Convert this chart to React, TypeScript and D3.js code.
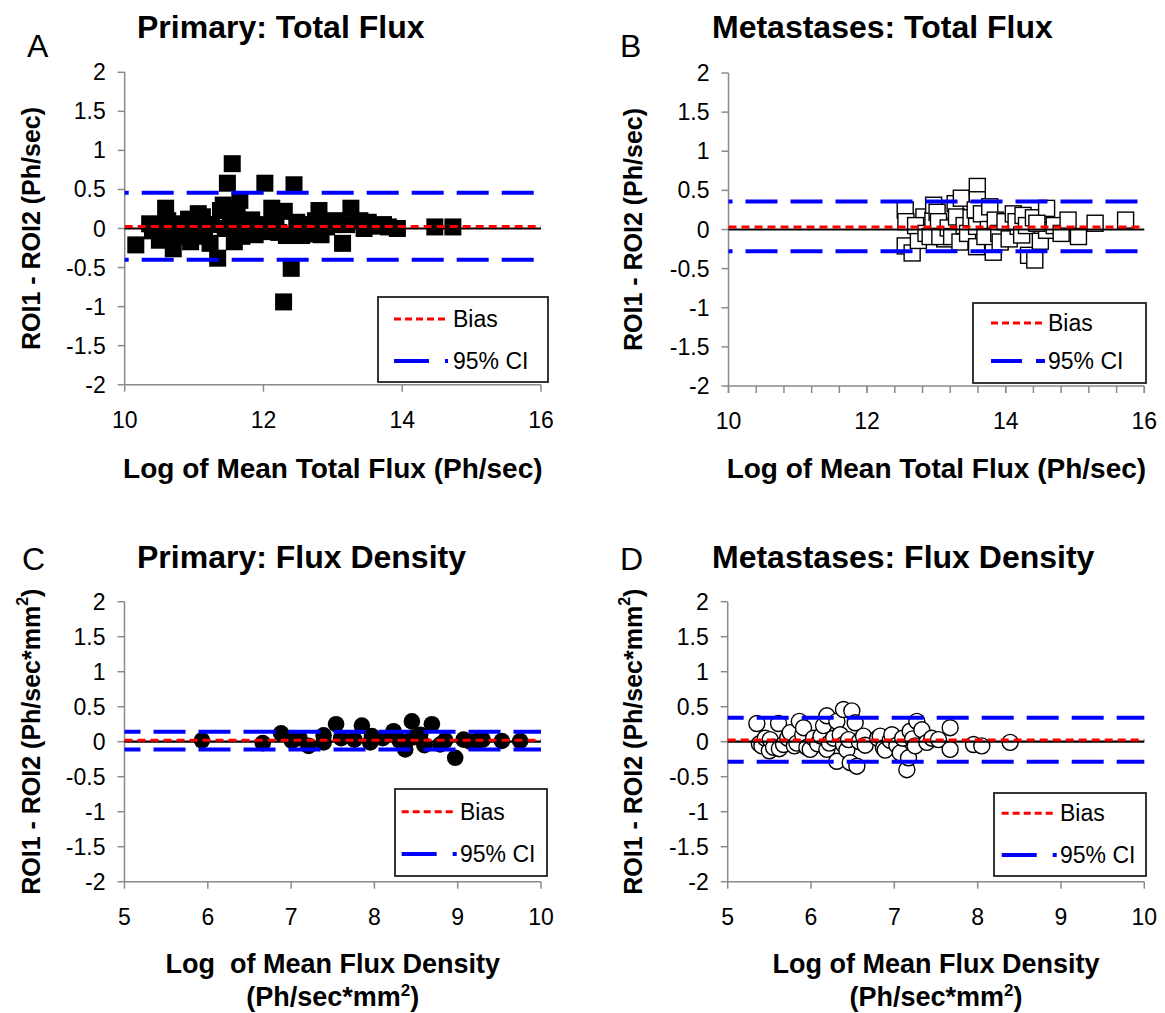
import React from 'react';
import * as d3 from 'd3';

const FONT = '"Liberation Sans", Arial, Helvetica, sans-serif';

type Pt = [number, number];

// ---- Data (x = log of mean, y = ROI1 - ROI2) ----
const primaryTotalFlux: Pt[] = [
  [10.16, -0.21], [10.36, 0.06], [10.4, -0.03], [10.5, -0.15], [10.52, 0.05],
  [10.59, 0.26], [10.62, 0.1], [10.65, -0.05], [10.7, -0.26], [10.74, 0.05], [10.8, -0.1],
  [10.85, 0.06], [10.92, 0.12], [10.95, -0.17], [11.0, 0.0], [11.06, 0.19], [11.12, 0.15],
  [11.15, -0.1], [11.23, -0.19], [11.25, 0.05], [11.34, -0.38], [11.38, 0.23], [11.42, 0.3],
  [11.45, 0.0], [11.48, 0.58], [11.52, 0.12], [11.55, 0.83], [11.58, -0.17], [11.62, 0.25],
  [11.66, 0.36], [11.69, -0.1], [11.72, 0.05], [11.83, 0.11], [11.88, -0.08], [11.95, 0.05],
  [12.02, 0.58], [12.08, -0.04], [12.12, 0.26], [12.18, 0.1], [12.22, -0.05], [12.29, -0.94],
  [12.3, 0.22], [12.33, -0.09], [12.4, -0.51], [12.44, 0.56], [12.48, 0.08], [12.55, -0.09],
  [12.6, 0.05], [12.65, -0.07], [12.75, 0.1], [12.8, 0.23], [12.83, -0.08], [12.91, 0.02],
  [13.0, 0.05], [13.03, 0.1], [13.14, -0.19], [13.2, 0.05], [13.26, 0.26], [13.39, 0.1],
  [13.45, 0.0], [13.51, 0.08], [13.6, 0.03], [13.73, 0.05], [13.8, 0.02], [13.93, 0.0],
  [14.47, 0.02], [14.73, 0.02],
];

const metastasesTotalFlux: Pt[] = [
  [12.55, 0.25], [12.56, 0.1], [12.55, -0.21], [12.65, -0.3], [12.74, -0.14], [12.82, 0.16],
  [12.7, 0.05], [12.85, -0.05], [12.95, 0.12], [13.1, 0.18], [13.12, -0.12], [13.2, 0.25],
  [12.96, 0.31], [13.01, 0.22], [13.03, 0.1], [12.91, -0.09], [13.05, -0.09], [13.17, 0.02],
  [13.27, 0.33], [13.36, 0.4], [13.29, 0.16], [13.22, -0.09], [13.34, -0.16], [13.4, 0.05],
  [13.45, -0.05], [13.5, 0.15], [13.59, 0.55], [13.59, 0.38], [13.56, 0.25], [13.58, 0.04],
  [13.58, -0.22], [13.65, 0.2], [13.77, 0.29], [13.75, 0.0], [13.82, -0.29], [13.7, -0.09],
  [13.85, 0.12], [13.9, -0.05], [13.92, -0.16], [13.99, 0.1], [14.05, -0.12], [14.11, 0.2],
  [14.18, 0.04], [14.15, 0.1], [14.25, 0.18], [14.33, -0.33], [14.23, -0.07], [14.3, 0.05],
  [14.42, -0.39], [14.4, 0.15], [14.5, -0.15], [14.59, 0.27], [14.59, -0.01], [14.45, 0.08],
  [14.7, 0.05], [14.8, -0.05], [14.9, 0.12], [15.05, -0.09], [15.29, 0.08], [15.73, 0.12],
];

const primaryFluxDensity: Pt[] = [
  [5.93, 0.02], [6.66, -0.02], [6.88, 0.12], [7.01, 0.01], [7.1, 0.05], [7.21, -0.06],
  [7.39, -0.01], [7.39, 0.09], [7.54, 0.25], [7.6, 0.05], [7.76, 0.03], [7.85, 0.23],
  [7.95, -0.01], [7.97, 0.08], [8.1, 0.05], [8.23, 0.15], [8.3, 0.02], [8.35, -0.01],
  [8.37, -0.11], [8.45, 0.29], [8.46, 0.06], [8.55, 0.1], [8.69, 0.25], [8.6, -0.05],
  [8.79, -0.04], [8.85, 0.02], [8.97, -0.23], [9.07, 0.03], [9.15, 0.0], [9.23, 0.01],
  [9.3, 0.03], [9.53, 0.01], [9.75, 0.01],
];

const metastasesFluxDensity: Pt[] = [
  [5.35, 0.26], [5.38, -0.03], [5.41, -0.06], [5.45, 0.05], [5.5, -0.13], [5.51, 0.03],
  [5.55, -0.08], [5.61, 0.26], [5.62, -0.1], [5.67, -0.04], [5.72, 0.05], [5.75, 0.13],
  [5.8, -0.06], [5.83, -0.02], [5.86, 0.29], [5.9, 0.1], [5.91, 0.2], [5.95, -0.08],
  [5.99, -0.11], [6.03, 0.05], [6.08, -0.03], [6.12, 0.08], [6.15, 0.23], [6.19, 0.37],
  [6.19, -0.11], [6.22, -0.02], [6.27, 0.05], [6.31, 0.29], [6.31, -0.28], [6.35, 0.1],
  [6.39, 0.46], [6.39, -0.04], [6.43, -0.12], [6.45, 0.03], [6.47, -0.3], [6.49, 0.44],
  [6.53, 0.27], [6.55, -0.35], [6.58, 0.0], [6.63, 0.08], [6.65, -0.05], [6.8, 0.05],
  [6.83, 0.08], [6.87, -0.09], [6.89, -0.12], [6.95, 0.02], [6.97, 0.1], [7.03, -0.05],
  [7.07, -0.16], [7.1, 0.05], [7.15, -0.4], [7.17, -0.23], [7.19, 0.15], [7.22, 0.04],
  [7.25, -0.06], [7.27, 0.29], [7.33, 0.17], [7.39, -0.01], [7.45, 0.05], [7.53, 0.03],
  [7.67, 0.2], [7.67, -0.11], [7.95, -0.04], [8.05, -0.06], [8.39, -0.01],
];

const yTickValues = [2, 1.5, 1, 0.5, 0, -0.5, -1, -1.5, -2];
const totalFluxTicks = [10, 12, 14, 16];
const densityTicks = [5, 6, 7, 8, 9, 10];
const biasValues = [0.026, 0.033, 0.019, 0.023];
const upperLimits = [0.457, 0.359, 0.143, 0.343];
const lowerLimits = [-0.4, -0.278, -0.11, -0.286];
const legendLabels = ['Bias', '95% CI'];
const panelLetters = ['A', 'B', 'C', 'D'];
const panelTitles = [
  'Primary: Total Flux',
  'Metastases: Total Flux',
  'Primary: Flux Density',
  'Metastases: Flux Density',
];

type Layout = {
  data: Pt[];
  marker: 'fsq' | 'osq' | 'fci' | 'oci';
  xTicks: number[];
  minorStep: number;
  left: number; right: number; top: number; bottom: number;
  letter: [number, number];
  title: [number, number];
  yLabX: number;
  density: boolean;
  xLab: { lines: string[]; y: number[] };
  blueOffset: number;
  legend: { x: number; y: number; w: number; h: number; lx1: number; lx2: number; tx: number; r1: number; r2: number; dash: string };
};

const layouts: Layout[] = [
  {
    data: primaryTotalFlux, marker: 'fsq', xTicks: totalFluxTicks, minorStep: 0,
    left: 124.7, right: 541, top: 72.3, bottom: 384.7,
    letter: [27, 57], title: [137, 38], yLabX: 31, density: false,
    xLab: { lines: ['Log of Mean Total Flux (Ph/sec)'], y: [478] },
    blueOffset: 28,
    legend: { x: 378, y: 297, w: 170, h: 85, lx1: 394, lx2: 448, tx: 453, r1: 319, r2: 361, dash: '35 16' },
  },
  {
    data: metastasesTotalFlux, marker: 'osq', xTicks: totalFluxTicks, minorStep: 0.4,
    left: 728.5, right: 1144.3, top: 73, bottom: 386,
    letter: [620, 57], title: [712, 38], yLabX: 633, density: false,
    xLab: { lines: ['Log of Mean Total Flux (Ph/sec)'], y: [478] },
    blueOffset: 28,
    legend: { x: 973, y: 303, w: 173, h: 80, lx1: 991, lx2: 1045, tx: 1048, r1: 323, r2: 361, dash: '31 14' },
  },
  {
    data: primaryFluxDensity, marker: 'fci', xTicks: densityTicks, minorStep: 0,
    left: 124.5, right: 541, top: 601.7, bottom: 881.7,
    letter: [22, 570], title: [137, 568], yLabX: 31, density: true,
    xLab: { lines: ['Log  of Mean Flux Density', '(Ph/sec*mm'], y: [973, 1006] },
    blueOffset: 16,
    legend: { x: 395, y: 789, w: 152, h: 87, lx1: 401.7, lx2: 456.7, tx: 460, r1: 811.7, r2: 854, dash: '35 16' },
  },
  {
    data: metastasesFluxDensity, marker: 'oci', xTicks: densityTicks, minorStep: 0,
    left: 727.7, right: 1144.3, top: 601.7, bottom: 881.7,
    letter: [620, 570], title: [712, 568], yLabX: 633, density: true,
    xLab: { lines: ['Log of Mean Flux Density', '(Ph/sec*mm'], y: [973, 1006] },
    blueOffset: 16,
    legend: { x: 994, y: 793, w: 152, h: 83, lx1: 1001.7, lx2: 1056.7, tx: 1060, r1: 813.3, r2: 855, dash: '35 16' },
  },
];

const AXIS = '#8a8a8a';
const BLUE = '#0000ff';
const RED = '#ff0000';

function Panel({ L, i }: { L: Layout; i: number }) {
  const x = d3.scaleLinear().domain([L.xTicks[0], L.xTicks[L.xTicks.length - 1]]).range([L.left, L.right]);
  const y = d3.scaleLinear().domain([-2, 2]).range([L.bottom, L.top]);
  const minor: number[] = [];
  if (L.minorStep > 0) {
    const d = x.domain();
    for (let k = 0; d[0] + k * L.minorStep <= d[1] + 1e-9; k++) minor.push(d[0] + k * L.minorStep);
  }
  const yMid = (L.top + L.bottom) / 2;
  const xMid = (L.left + L.right) / 2;
  const leg = L.legend;
  const xLabSize = L.density ? 27 : 28;
  return (
    <g>
      <text x={L.letter[0]} y={L.letter[1]} fontSize={32} fontFamily={FONT}>{panelLetters[i]}</text>
      <text x={L.title[0]} y={L.title[1]} fontSize={32} fontWeight="bold" fontFamily={FONT}>{panelTitles[i]}</text>
      <text
        transform={`translate(${L.yLabX},${yMid}) rotate(-90)`}
        textAnchor="middle" dominantBaseline="central"
        fontSize={25} fontWeight="bold" fontFamily={FONT}
      >
        {L.density ? (
          <>
            <tspan>ROI1 - ROI2 (Ph/sec*mm</tspan>
            <tspan fontSize={16} dy={-9}>2</tspan>
            <tspan dy={9}>)</tspan>
          </>
        ) : 'ROI1 - ROI2 (Ph/sec)'}
      </text>
      <line x1={L.left} x2={L.left} y1={L.top} y2={L.bottom} stroke={AXIS} strokeWidth={1.5} />
      <line x1={L.left} x2={L.right} y1={L.bottom} y2={L.bottom} stroke={AXIS} strokeWidth={1.5} />
      {yTickValues.map((t) => (
        <g key={'y' + t}>
          <line x1={L.left - 7} x2={L.left} y1={y(t)} y2={y(t)} stroke={AXIS} strokeWidth={1.5} />
          <text x={L.left - 19} y={y(t) + 8} textAnchor="end" fontSize={23} fontFamily={FONT}>{String(t)}</text>
        </g>
      ))}
      {minor.map((t) => (
        <line key={'m' + t} x1={x(t)} x2={x(t)} y1={L.bottom} y2={L.bottom + 7} stroke={AXIS} strokeWidth={1.5} />
      ))}
      {L.xTicks.map((t) => (
        <g key={'x' + t}>
          <line x1={x(t)} x2={x(t)} y1={L.bottom} y2={L.bottom + 7} stroke={AXIS} strokeWidth={1.5} />
          <text x={x(t)} y={L.bottom + 43} textAnchor="middle" fontSize={23} fontFamily={FONT}>{String(t)}</text>
        </g>
      ))}
      {L.xLab.lines.map((s, k) => (
        <text key={k} x={xMid} y={L.xLab.y[k]} textAnchor="middle" fontSize={xLabSize} fontWeight="bold"
          fontFamily={FONT} style={{ whiteSpace: 'pre' }}>
          {k === 1 ? (
            <>
              <tspan>{s}</tspan>
              <tspan fontSize={17} dy={-10}>2</tspan>
              <tspan dy={10}>)</tspan>
            </>
          ) : s}
        </text>
      ))}
      {L.data.map(([dx, dy], k) => {
        const cx = x(dx);
        const cy = y(dy);
        if (L.marker === 'fsq') return <rect key={k} x={cx - 8.5} y={cy - 8.5} width={17} height={17} fill="#000" />;
        if (L.marker === 'osq') return <rect key={k} x={cx - 8} y={cy - 8} width={16} height={16} fill="#fff" stroke="#000" strokeWidth={1.4} />;
        if (L.marker === 'fci') return <circle key={k} cx={cx} cy={cy} r={8.3} fill="#000" />;
        return <circle key={k} cx={cx} cy={cy} r={8} fill="#fff" stroke="#000" strokeWidth={1.4} />;
      })}
      <line x1={L.left} x2={L.right} y1={y(0)} y2={y(0)} stroke="#000" strokeWidth={2.2} />
      <line x1={L.left} x2={L.right} y1={y(biasValues[i])} y2={y(biasValues[i])} stroke={RED} strokeWidth={3} strokeDasharray="8 5" />
      <line x1={L.left} x2={L.right} y1={y(upperLimits[i])} y2={y(upperLimits[i])} stroke={BLUE} strokeWidth={4} strokeDasharray="32 13" strokeDashoffset={L.blueOffset} />
      <line x1={L.left} x2={L.right} y1={y(lowerLimits[i])} y2={y(lowerLimits[i])} stroke={BLUE} strokeWidth={4} strokeDasharray="32 13" strokeDashoffset={L.blueOffset} />
      <rect x={leg.x} y={leg.y} width={leg.w} height={leg.h} fill="#fff" stroke="#222" strokeWidth={1.8} />
      <line x1={leg.lx1} x2={leg.lx2} y1={leg.r1} y2={leg.r1} stroke={RED} strokeWidth={3} strokeDasharray="7 4" />
      <text x={leg.tx} y={leg.r1 + 8} fontSize={23} fontFamily={FONT}>{legendLabels[0]}</text>
      <line x1={leg.lx1} x2={leg.lx2} y1={leg.r2} y2={leg.r2} stroke={BLUE} strokeWidth={4} strokeDasharray={leg.dash} />
      <text x={leg.tx} y={leg.r2 + 8} fontSize={23} fontFamily={FONT}>{legendLabels[1]}</text>
    </g>
  );
}

export default function App() {
  return (
    <svg width={1165} height={1013} style={{ position: 'absolute', left: 0, top: 0, background: '#fff' }}>
      <rect x={0} y={0} width={1165} height={1013} fill="#fff" />
      {layouts.map((L, i) => (
        <Panel key={i} L={L} i={i} />
      ))}
    </svg>
  );
}
